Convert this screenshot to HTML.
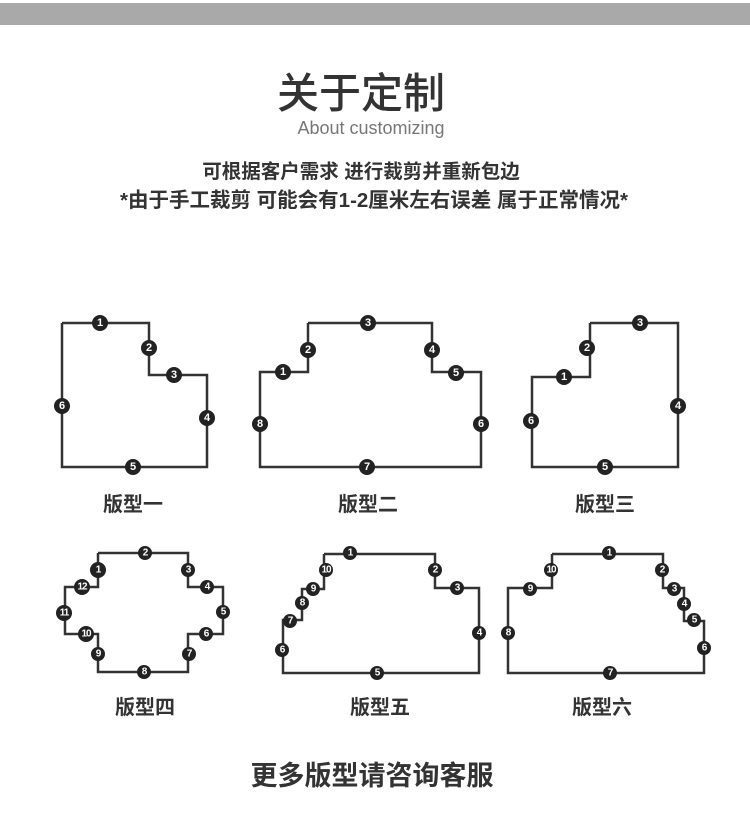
<!DOCTYPE html>
<html><head><meta charset="utf-8"><style>
body{margin:0;background:#fff;}
svg{display:block}
text{font-family:"Liberation Sans","Noto Sans CJK SC",sans-serif;}
</style></head><body>
<svg width="750" height="838" viewBox="0 0 750 838" xmlns="http://www.w3.org/2000/svg">
<rect x="0" y="3" width="750" height="22" fill="#a9a9a9"/>
<text x="361" y="108" text-anchor="middle" font-size="42" font-weight="500" fill="#333">关于定制</text>
<text x="371" y="134" text-anchor="middle" font-size="18" fill="#777">About customizing</text>
<text x="361" y="178" text-anchor="middle" font-size="19.5" font-weight="bold" fill="#333">可根据客户需求 进行裁剪并重新包边</text>
<text x="374" y="207" text-anchor="middle" font-size="20.5" font-weight="bold" fill="#333">*由于手工裁剪 可能会有1-2厘米左右误差 属于正常情况*</text>
<g fill="none" stroke="#333" stroke-width="2.5">
<polyline points="62,323 149,323 149,375 207,375 207,467 62,467 62,323"/>
<polyline points="308,323 432,323 432,372 481,372 481,467 260,467 260,372 308,372 308,323"/>
<polyline points="590,323 678,323 678,467 532,467 532,377 590,377 590,323"/>
<polyline points="98,553 188,553 188,587 223,587 223,634 188,634 188,672 98,672 98,634 65,634 65,587 98,587 98,553"/>
<polyline points="324,554 435,554 435,588 479,588 479,673 283,673 283,620 302,620 302,589 324,589 324,554"/>
<polyline points="552,554 663,554 663,588 684,588 684,621 704,621 704,673 508,673 508,588 552,588 552,554"/>
</g>
<g fill="#222">
<circle cx="100" cy="323" r="8"/><circle cx="149" cy="348" r="8"/><circle cx="174" cy="375" r="8"/><circle cx="207" cy="418" r="8"/><circle cx="133" cy="467" r="8"/><circle cx="62" cy="406" r="8"/>
<circle cx="368" cy="323" r="8"/><circle cx="308" cy="350" r="8"/><circle cx="283" cy="372" r="8"/><circle cx="432" cy="350" r="8"/><circle cx="456" cy="373" r="8"/><circle cx="481" cy="424" r="8"/><circle cx="367" cy="467" r="8"/><circle cx="260" cy="424" r="8"/>
<circle cx="640" cy="323" r="8"/><circle cx="587" cy="348" r="8"/><circle cx="564" cy="377" r="8"/><circle cx="531" cy="421" r="8"/><circle cx="605" cy="467" r="8"/><circle cx="678" cy="406" r="8"/>
<circle cx="98" cy="570" r="8"/><circle cx="145" cy="553" r="7"/><circle cx="188" cy="570" r="7"/><circle cx="207" cy="587" r="7"/><circle cx="223" cy="612" r="7"/><circle cx="206" cy="634" r="7"/><circle cx="189" cy="654" r="7"/><circle cx="144" cy="672" r="7"/><circle cx="98" cy="654" r="7"/><circle cx="86" cy="634" r="8"/><circle cx="64" cy="613" r="8"/><circle cx="82" cy="587" r="8"/>
<circle cx="350" cy="553" r="7"/><circle cx="435" cy="570" r="7"/><circle cx="457" cy="588" r="7"/><circle cx="479" cy="633" r="7"/><circle cx="377" cy="673" r="7"/><circle cx="282" cy="650" r="7"/><circle cx="290" cy="621" r="7"/><circle cx="302" cy="603" r="7"/><circle cx="313" cy="589" r="7"/><circle cx="326" cy="570" r="7"/>
<circle cx="609" cy="553" r="7"/><circle cx="662" cy="570" r="7"/><circle cx="674" cy="589" r="7"/><circle cx="684" cy="604" r="7"/><circle cx="694" cy="620" r="7"/><circle cx="704" cy="648" r="7"/><circle cx="610" cy="673" r="7"/><circle cx="508" cy="633" r="7"/><circle cx="530" cy="589" r="7"/><circle cx="551" cy="570" r="7"/>
</g>
<g font-size="11" font-weight="bold" fill="#fff" text-anchor="middle" dominant-baseline="central">
<text x="100" y="323">1</text><text x="149" y="348">2</text><text x="174" y="375">3</text><text x="207" y="418">4</text><text x="133" y="467">5</text><text x="62" y="406">6</text>
<text x="368" y="323">3</text><text x="308" y="350">2</text><text x="283" y="372">1</text><text x="432" y="350">4</text><text x="456" y="373">5</text><text x="481" y="424">6</text><text x="367" y="467">7</text><text x="260" y="424">8</text>
<text x="640" y="323">3</text><text x="587" y="348">2</text><text x="564" y="377">1</text><text x="531" y="421">6</text><text x="605" y="467">5</text><text x="678" y="406">4</text>
</g>
<g font-size="10" font-weight="bold" fill="#fff" text-anchor="middle" dominant-baseline="central" letter-spacing="-1">
<text x="98" y="570">1</text><text x="145" y="553">2</text><text x="188" y="570">3</text><text x="207" y="587">4</text><text x="223" y="612">5</text><text x="206" y="634">6</text><text x="189" y="654">7</text><text x="144" y="672">8</text><text x="98" y="654">9</text><text x="86" y="634">10</text><text x="64" y="613">11</text><text x="82" y="587">12</text>
<text x="350" y="553">1</text><text x="435" y="570">2</text><text x="457" y="588">3</text><text x="479" y="633">4</text><text x="377" y="673">5</text><text x="282" y="650">6</text><text x="290" y="621">7</text><text x="302" y="603">8</text><text x="313" y="589">9</text><text x="326" y="570">10</text>
<text x="609" y="553">1</text><text x="662" y="570">2</text><text x="674" y="589">3</text><text x="684" y="604">4</text><text x="694" y="620">5</text><text x="704" y="648">6</text><text x="610" y="673">7</text><text x="508" y="633">8</text><text x="530" y="589">9</text><text x="551" y="570">10</text>
</g>
<g font-size="20" font-weight="bold" fill="#333" text-anchor="middle">
<text x="133" y="511">版型一</text><text x="368" y="511">版型二</text><text x="605" y="511">版型三</text>
<text x="145" y="714">版型四</text><text x="380" y="714">版型五</text><text x="602" y="714">版型六</text>
</g>
<text x="372" y="785" text-anchor="middle" font-size="27" font-weight="bold" fill="#333">更多版型请咨询客服</text>
</svg>
</body></html>
